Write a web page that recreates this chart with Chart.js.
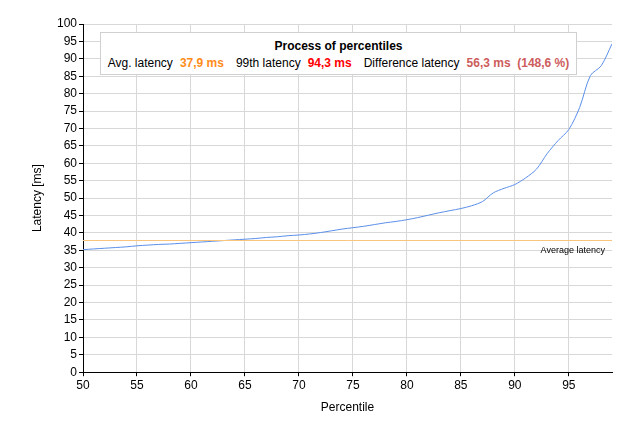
<!DOCTYPE html>
<html>
<head>
<meta charset="utf-8">
<script src="https://cdn.jsdelivr.net/npm/chart.js@4/dist/chart.umd.min.js"></script>
<style>
    body { margin: 0; background: #fff; }
    #wrap { position: relative; width: 633px; height: 431px; }
    #infoBox {
        position: absolute; left: 100px; top: 32px; width: 475px; height: 41px;
        background: #fff; border: 1px solid #d0d0d0;
        font-family: "Liberation Sans", Arial, sans-serif; font-size: 12px; color: #000;
        text-align: center;
    }
    #infoBox .ttl { font-weight: bold; margin-top: 6px; }
    #infoBox .row { margin-top: 3px; white-space: nowrap; }
    #infoBox b { margin-left: 7px; margin-right: 12px; }
</style>
</head>
<body>
<div id="wrap">
    <canvas id="mypercentile" width="633" height="431"></canvas>
    <div id="infoBox">
        <div class="ttl">Process of percentiles</div>
        <div class="row">Avg. latency<b style="color:#ff8c1a">37,9 ms</b>99th latency<b style="color:#ff0000">94,3 ms</b>Difference latency<b style="color:#cd5c5c;margin-right:0">56,3 ms&nbsp;&nbsp;(148,6 %)</b></div>
    </div>
</div>
<script>
let percentiles = [50, 51, 52, 53, 54, 55, 56, 57, 58, 59,
    60, 61, 62, 63, 64, 65, 66, 67, 68, 69,
    70, 71, 72, 73, 74, 75, 76, 77, 78, 79,
    80, 81, 82, 83, 84, 85, 86, 87, 88, 89,
    90, 91, 92, 93, 94, 95, 96, 97, 98, 99];
let latency = [35.2, 35.4, 35.6, 35.8, 36.0, 36.3, 36.5, 36.7, 36.8, 37.0,
    37.2, 37.4, 37.6, 37.8, 38.0, 38.2, 38.4, 38.7, 38.9, 39.2,
    39.4, 39.7, 40.1, 40.6, 41.1, 41.5, 41.9, 42.4, 42.9, 43.3,
    43.8, 44.4, 45.1, 45.8, 46.4, 47.0, 47.8, 49.0, 51.5, 52.8,
    53.9, 55.8, 58.3, 62.8, 66.5, 69.7, 76.0, 85.2, 88.0, 94.3];
let avgLatency = 37.9;
let avgLabel = 'Average latency';

let font = "'Liberation Sans', Arial, sans-serif";

// average line + its label, drawn from the y scale
let avgPlugin = {
    id: 'avgLine',
    afterDatasetsDraw(chart) {
        let ctx = chart.ctx;
        let area = chart.chartArea;
        let y = Math.round(chart.scales.y.getPixelForValue(avgLatency)) + 0.5;
        ctx.save();
        ctx.strokeStyle = '#f9c47e';
        ctx.lineWidth = 1;
        ctx.beginPath();
        ctx.moveTo(area.left, y);
        ctx.lineTo(area.right, y);
        ctx.stroke();
        ctx.fillStyle = '#000';
        ctx.font = '9px ' + font;
        ctx.textAlign = 'right';
        ctx.textBaseline = 'top';
        ctx.fillText(avgLabel, area.right - 7, y + 6);
        ctx.restore();
    }
};

let chartdata = {
    datasets: [{
        data: percentiles.map((p, i) => ({ x: p, y: latency[i] })),
        borderColor: '#5b8fe8',
        borderWidth: 1,
        pointRadius: 0,
        tension: 0.3,
        fill: false
    }]
};

let ctx = document.getElementById('mypercentile');
let myLineChart = new Chart(ctx, {
    type: 'line',
    data: chartdata,
    plugins: [avgPlugin],
    options: {
        responsive: false,
        animation: false,
        layout: { padding: { left: 30, right: 21, top: 24, bottom: 12 } },
        plugins: { legend: { display: false }, tooltip: { enabled: false } },
        scales: {
            x: {
                type: 'linear',
                min: 50,
                max: 99,
                afterBuildTicks: s => { s.ticks = s.ticks.filter(t => t.value % 5 === 0); },
                ticks: { stepSize: 5, color: '#000', font: { family: font, size: 12 }, padding: 2, maxRotation: 0 },
                grid: { color: '#d8d8d8', tickColor: '#000', tickLength: 4 },
                border: { color: '#000' },
                title: { display: true, text: 'Percentile', color: '#000', font: { family: font, size: 12 }, padding: { top: 6 } }
            },
            y: {
                min: 0,
                max: 100,
                afterFit: s => { s.width = 53; },
                ticks: { stepSize: 5, color: '#000', font: { family: font, size: 12 }, padding: 2 },
                grid: { color: '#d8d8d8', tickColor: '#000', tickLength: 4 },
                border: { color: '#000' },
                title: { display: true, text: 'Latency [ms]', color: '#000', font: { family: font, size: 12 }, padding: 0 }
            }
        }
    }
});
</script>
</body>
</html>
